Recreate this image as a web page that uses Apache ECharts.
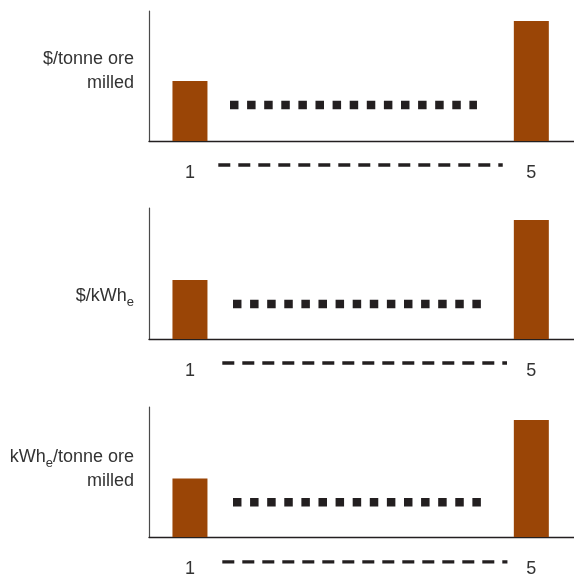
<!DOCTYPE html>
<html>
<head>
<meta charset="utf-8">
<script src="https://cdn.jsdelivr.net/npm/echarts@6/dist/echarts.min.js"></script>
<style>
  html, body { margin: 0; padding: 0; background: #ffffff; }
  #chart { width: 574px; height: 578px; }
</style>
</head>
<body>
<div id="chart"></div>
<script>
// ---- data ----
const xTickValues = [1, 5];
const axisNames = [
  '$/tonne ore\nmilled',
  '$/kWh{sub|e}',
  'kWh{sub|e}/tonne ore\nmilled'
];
const barX = [1, 5];
const barValuesPanel1 = [60, 120];
const barValuesPanel2 = [59, 119];
const barValuesPanel3 = [59, 118];
const yMaxes = [130, 131, 131];
const dottedLevels = [36, 35, 35];
const dottedFrom = [1.469, 1.504, 1.504];
const dottedTo = [4.363, 4.41, 4.41];
const dashedLevels = [-24, -24, -25];
const dashedFrom = [1.332, 1.379, 1.379];
const dashedTo = [4.665, 4.715, 4.72];

// ---- layout/style ----
const gridTops = [11, 208, 407];
const gridHeights = [130, 131, 131];
const namePaddings = [[0, 0, 10, 0], [46, 0, 0, 0], [0, 0, 5, 0]];
const barColor = '#9a4506';
const inkColor = '#231f20';
const textColor = '#333333';
const fontFamily = '"Liberation Sans", Arial, sans-serif';

const barSets = [barValuesPanel1, barValuesPanel2, barValuesPanel3];

const grids = [], xAxes = [], yAxes = [], series = [];
for (let i = 0; i < 3; i++) {
  grids.push({ left: 149, width: 425, top: gridTops[i], height: gridHeights[i], containLabel: false });
  xAxes.push({
    type: 'value', gridIndex: i, min: 0.52, max: 5.5,
    axisLine: { show: true, onZero: false, lineStyle: { color: inkColor, width: 1.3 } },
    axisTick: { show: false },
    splitLine: { show: false },
    axisLabel: {
      customValues: xTickValues,
      fontSize: 18, color: textColor, fontFamily: fontFamily, margin: 23
    }
  });
  yAxes.push({
    type: 'value', gridIndex: i, min: 0, max: yMaxes[i],
    axisLine: { show: true, lineStyle: { color: '#4a4a4a', width: 1.2 } },
    axisTick: { show: false },
    axisLabel: { show: false },
    splitLine: { show: false },
    name: axisNames[i],
    nameLocation: 'middle',
    nameRotate: 0,
    nameGap: 15,
    nameTextStyle: {
      align: 'right', verticalAlign: 'middle',
      fontSize: 18, lineHeight: 24, color: textColor, fontFamily: fontFamily,
      padding: namePaddings[i],
      rich: {
        sub: { fontSize: 13, lineHeight: 16, verticalAlign: 'bottom', color: textColor, fontFamily: fontFamily }
      }
    }
  });
  series.push({
    type: 'bar', xAxisIndex: i, yAxisIndex: i,
    data: barX.map((x, k) => [x, barSets[i][k]]),
    barWidth: 35,
    itemStyle: { color: barColor },
    silent: true
  });
  series.push({
    type: 'line', xAxisIndex: i, yAxisIndex: i,
    data: [[dottedFrom[i], dottedLevels[i]], [dottedTo[i], dottedLevels[i]]],
    symbol: 'none',
    lineStyle: { color: inkColor, width: 8.5, type: [8.5, 8.6], cap: 'butt' },
    silent: true
  });
  series.push({
    type: 'line', xAxisIndex: i, yAxisIndex: i,
    data: [[dashedFrom[i], dashedLevels[i]], [dashedTo[i], dashedLevels[i]]],
    symbol: 'none',
    clip: false,
    lineStyle: { color: inkColor, width: 3.3, type: [12, 8], cap: 'butt' },
    silent: true
  });
}

const chart = echarts.init(document.getElementById('chart'), null, { renderer: 'canvas' });
chart.setOption({
  animation: false,
  backgroundColor: '#ffffff',
  grid: grids,
  xAxis: xAxes,
  yAxis: yAxes,
  series: series
});
</script>
</body>
</html>
